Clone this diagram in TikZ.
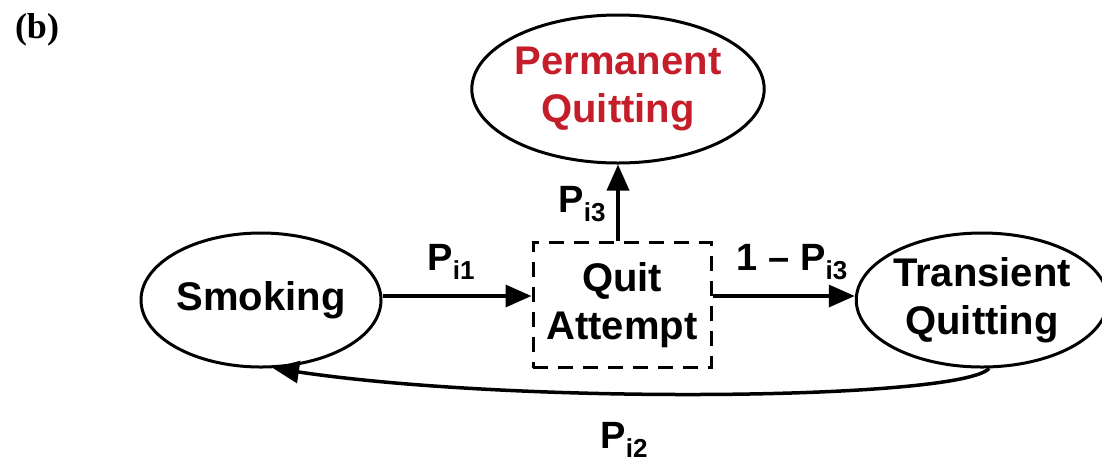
\documentclass[tikz,border=0pt]{standalone}
\usepackage{fontspec}
\setmainfont{Liberation Sans}
\newfontfamily\panelfont{Liberation Serif}
\usetikzlibrary{arrows.meta, shapes.geometric}
\definecolor{permred}{RGB}{196,30,42}
\newcommand{\prob}[2]{#1\raisebox{-0.45ex}{\fontsize{26}{26}\selectfont #2}}

\begin{document}
\begin{tikzpicture}[x=1pt,y=-1pt,
	state/.style={draw, ellipse, line width=3pt, fill=white, inner sep=0pt, align=center,
		font=\fontsize{40}{48}\selectfont\bfseries},
	attempt/.style={draw, dashed, dash pattern=on 15pt off 10pt, line width=3pt, inner sep=0pt,
		minimum width=178pt, minimum height=125pt, align=center, font=\fontsize{40}{48}\selectfont\bfseries},
	flow/.style={line width=3.5pt, -{Triangle[length=26pt,width=22pt]}},
	plabel/.style={font=\fontsize{38}{40}\selectfont\bfseries}]
			\useasboundingbox (0,0) rectangle (1102,467);
			\node[font=\fontsize{36}{40}\selectfont\panelfont\bfseries] (panel) at (37,30) {(b)};
			% states
			\node[state, minimum width=240pt, minimum height=134pt] (smoke) at (261,300) {Smoking};
			\node[attempt] (quit) at (622,305) {Quit\\Attempt};
			\node[state, minimum width=238pt, minimum height=134pt] (trans) at (982,300) {Transient\\Quitting};
			\node[state, minimum width=272pt, minimum height=148pt, text=permred] (perm) at (618,89) {Permanent\\Quitting};
			% transitions
			\draw[flow] (smoke.east |- 0,296) -- (quit.west |- 0,296);
			\draw[flow] (quit.east |- 0,296) -- (trans.west |- 0,296);
			\draw[flow] (perm.south |- quit.north) -- (perm.south);
			\draw[flow] (trans.-84) .. controls (960,400) and (520,405) .. (smoke.-80);
			% labels
			\node[plabel] (p1) at (451,262) {\prob{P}{i1}};
			\node[plabel] (p3) at (582,204) {\prob{P}{i3}};
			\node[plabel] (q3) at (792,262) {1 -- \prob{P}{i3}};
			\node[plabel] (p2) at (624,440) {\prob{P}{i2}};
		\end{tikzpicture}
\end{document}
